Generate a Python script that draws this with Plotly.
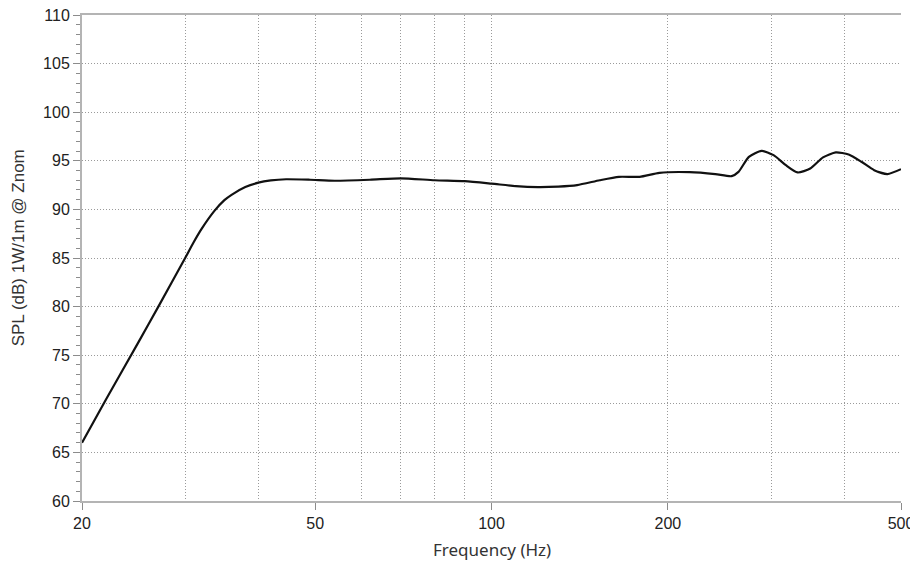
import plotly.graph_objects as go

freq = [20, 22, 25, 27, 30, 31, 32, 33.6, 35, 36, 38, 40, 42, 44.6, 49, 54, 62, 70, 80, 90, 100, 110,
        120, 130, 140, 153, 165, 179, 193.5, 218, 241, 257, 264, 275, 289, 303, 318, 333, 350, 368,
        387, 407, 428, 450, 474, 500]
spl = [66.0, 70.5, 76.4, 80.0, 85.0, 86.6, 88.0, 89.8, 90.95, 91.5, 92.3, 92.75, 92.98, 93.1, 93.05,
       92.95, 93.05, 93.2, 93.0, 92.9, 92.65, 92.4, 92.3, 92.35, 92.5, 93.0, 93.35, 93.35, 93.76,
       93.83, 93.63, 93.42, 93.86, 95.41, 96.03, 95.58, 94.55, 93.8, 94.2, 95.35, 95.86, 95.65,
       94.9, 94.04, 93.63, 94.14]

x_major_ticks = [20, 50, 100, 200, 500]
x_minor_grid = [30, 40, 60, 70, 80, 90, 300, 400]
y_title = "SPL (dB) 1W/1m @ Znom"
x_title = "Frequency (Hz)"

fig = go.Figure()
fig.add_trace(go.Scatter(x=freq, y=spl, mode="lines",
                         line=dict(color="#111111", width=2.2, shape="spline", smoothing=0.6),
                         showlegend=False, hoverinfo="skip"))

grid_col = "#9a9a9a"
axis_col = "#b4b4b4"
tick_col = "#8c8c8c"
dots = "1px,2px"

fig.update_layout(
    width=918, height=562,
    margin=dict(l=74, r=25, t=7, b=69),
    paper_bgcolor="white", plot_bgcolor="white",
    font=dict(family="Liberation Sans, Arial, sans-serif", size=16, color="#222222"),
    xaxis=dict(
        type="log", range=[1.30103, 2.69897], automargin=False, ticklabeloverflow="allow",
        tickvals=x_major_ticks, ticktext=[str(v) for v in x_major_ticks],
        ticks="outside", ticklen=7, tickcolor=tick_col, tickwidth=1.2,
        showline=True, linecolor=axis_col, linewidth=2, mirror=True,
        showgrid=True, gridcolor=grid_col, griddash=dots, gridwidth=1,
        minor=dict(tickvals=x_minor_grid, showgrid=True, gridcolor=grid_col,
                   griddash=dots, gridwidth=1, ticks=""),
        zeroline=False,
        tickfont=dict(size=16),
    ),
    yaxis=dict(
        range=[60, 110], tickmode="linear", tick0=60, dtick=5, automargin=False,
        ticklabeloverflow="allow",
        ticks="outside", ticklen=7, tickcolor=tick_col, tickwidth=1.2,
        showline=True, linecolor=axis_col, linewidth=2,
        showgrid=True, gridcolor=grid_col, griddash=dots, gridwidth=1,
        minor=dict(dtick=1, ticks="outside", ticklen=4, tickcolor=tick_col, tickwidth=1, showgrid=False),
        zeroline=False,
        tickfont=dict(size=16),
    ),
    annotations=[
        dict(text=x_title, xref="paper", yref="paper", x=0.5, y=-0.0988,
             xanchor="center", yanchor="middle", showarrow=False,
             font=dict(family="Noto Sans, sans-serif", size=17, color="#333333")),
        dict(text=y_title, xref="paper", yref="paper", x=-0.0781, y=0.52,
             xanchor="center", yanchor="middle", showarrow=False, textangle=-90,
             font=dict(family="Liberation Sans, Arial, sans-serif", size=17, color="#333333")),
    ],
)

fig.write_html("out.html")
